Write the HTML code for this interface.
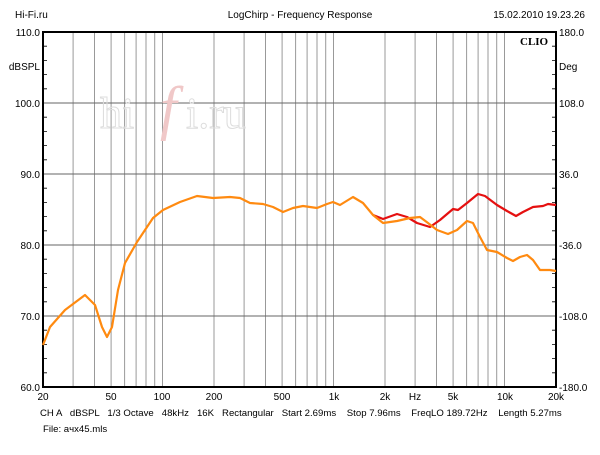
<!DOCTYPE html>
<html><head><meta charset="utf-8"><style>
body{margin:0;background:#fff;width:600px;height:450px;overflow:hidden}
text{font-family:"Liberation Sans",sans-serif;font-size:10px;fill:#000}
</style></head><body>
<svg width="600" height="450" xmlns="http://www.w3.org/2000/svg">
<g stroke="#999" stroke-width="1" fill="none">
<path d="M73.1 32V387M94.5 32V387M111.1 32V387M124.6 32V387M136.1 32V387M146 32V387M154.7 32V387M162.5 32V387M214 32V387M244.1 32V387M265.5 32V387M282.1 32V387M295.6 32V387M307.1 32V387M317 32V387M325.7 32V387M333.5 32V387M385 32V387M415.1 32V387M436.5 32V387M453.1 32V387M466.6 32V387M478.1 32V387M488 32V387M496.7 32V387M504.5 32V387"/>
</g>
<g stroke="#666" stroke-width="1">
<path d="M43 103H556M43 174H556M43 245H556M43 316H556"/>
</g>
<g stroke="#000" stroke-width="0.8">
<path d="M43 46.2h4M43 60.4h4M43 74.6h4M43 88.8h4M43 117.2h4M43 131.4h4M43 145.6h4M43 159.8h4M43 188.2h4M43 202.4h4M43 216.6h4M43 230.8h4M43 259.2h4M43 273.4h4M43 287.6h4M43 301.8h4M43 330.2h4M43 344.4h4M43 358.6h4M43 372.8h4"/>
<path d="M556 46.2h-4M556 60.4h-4M556 74.6h-4M556 88.8h-4M556 117.2h-4M556 131.4h-4M556 145.6h-4M556 159.8h-4M556 188.2h-4M556 202.4h-4M556 216.6h-4M556 230.8h-4M556 259.2h-4M556 273.4h-4M556 287.6h-4M556 301.8h-4M556 330.2h-4M556 344.4h-4M556 358.6h-4M556 372.8h-4"/>
</g>
<text x="100" y="128" style="font-family:'Liberation Serif',serif;font-size:44px;fill:none;stroke:#ddd;stroke-width:1">hi</text>
<text x="160" y="128" style="font-family:'Liberation Serif',serif;font-size:60px;font-style:italic;fill:#f0c8c8">f</text>
<text x="186" y="128" style="font-family:'Liberation Serif',serif;font-size:44px;fill:none;stroke:#ddd;stroke-width:1">i.ru</text>
<rect x="43" y="32" width="513" height="355" fill="none" stroke="#000" stroke-width="2"/>
<path fill="none" stroke="#e51010" stroke-width="2.2" stroke-linejoin="round" d="M373 215L383 219L397 214L407 217L417 223L430 227L440 220L453 209L458 210L467 203L478 194L485 196L497 205L507 211L516 216L523 212L533 207L543 206L548 204L556 205"/>
<path fill="none" stroke="#ff8a10" stroke-width="2.2" stroke-linejoin="round" d="M43 345L50 327L65 310L85 295L95 305L102 327L107 337L112 327L118 290L125 263L137 242L153 218L163 210L180 202L197 196L213 198L230 197L240 198L250 203L263 204L273 207L283 212L293 208L303 206L317 208L327 204L333 202L340 205L353 197L363 203L373 215L383 223L397 221L410 218L420 217L428 223L437 230L448 234L457 230L467 221L473 223L480 237L487 250L497 252L507 258L513 261L520 257L527 255L533 260L540 270L550 270L556 271"/>
<text x="520" y="45" style="font-family:'Liberation Serif',serif;font-weight:bold;font-size:11px">CLIO</text>
<text x="15" y="18">Hi-Fi.ru</text>
<text x="300" y="18" text-anchor="middle">LogChirp - Frequency Response</text>
<text x="585" y="18" text-anchor="end">15.02.2010 19.23.26</text>
<g text-anchor="end">
<text x="40" y="36">110.0</text><text x="40" y="70">dBSPL</text><text x="40" y="107">100.0</text><text x="40" y="178">90.0</text><text x="40" y="249">80.0</text><text x="40" y="320">70.0</text><text x="40" y="391">60.0</text>
</g>
<g>
<text x="559" y="36">180.0</text><text x="559" y="70">Deg</text><text x="559" y="107">108.0</text><text x="559" y="178">36.0</text><text x="559" y="249">-36.0</text><text x="559" y="320">-108.0</text><text x="559" y="391">-180.0</text>
</g>
<g text-anchor="middle">
<text x="43" y="400">20</text><text x="111" y="400">50</text><text x="162" y="400">100</text><text x="214" y="400">200</text><text x="282" y="400">500</text><text x="334" y="400">1k</text><text x="385" y="400">2k</text><text x="415" y="400">Hz</text><text x="453" y="400">5k</text><text x="505" y="400">10k</text><text x="556" y="400">20k</text>
</g>
<text x="40" y="416" style="font-size:9.6px" xml:space="preserve">CH A   dBSPL   1/3 Octave   48kHz   16K   Rectangular   Start 2.69ms    Stop 7.96ms    FreqLO 189.72Hz    Length 5.27ms</text>
<text x="43" y="432" style="font-size:9.6px">File: aчx45.mls</text>
</svg>
</body></html>
